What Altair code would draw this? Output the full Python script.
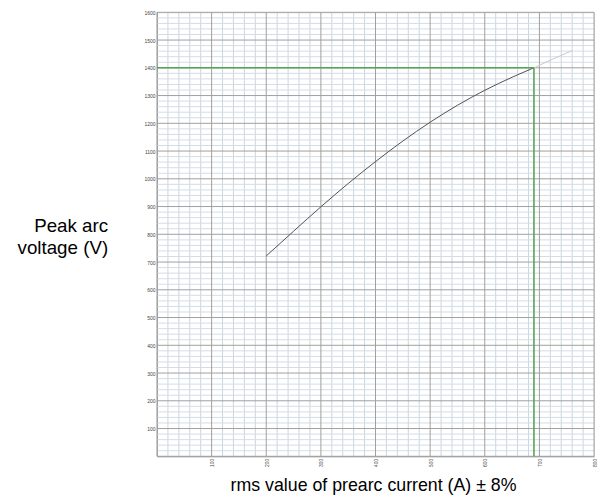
import altair as alt
import pandas as pd

# Axis tick values
x_major = [0, 100, 200, 300, 400, 500, 600, 700, 800]
y_major = [0, 100, 200, 300, 400, 500, 600, 700, 800, 900, 1000,
           1100, 1200, 1300, 1400, 1500, 1600]
x_minor = [v for v in range(0, 801, 20) if v % 100]
y_minor = [v for v in range(0, 1601, 20) if v % 100]
x_labels = [100, 200, 300, 400, 500, 600, 700, 800]
y_labels = [100, 200, 300, 400, 500, 600, 700, 800, 900, 1000,
            1100, 1200, 1300, 1400, 1500, 1600]

# Curve: rms prearc current (A) vs peak arc voltage (V)
curve_x = [200, 250, 300, 350, 400, 450, 500, 550, 600, 650, 690]
curve_y = [722, 811, 899, 983, 1062, 1136, 1204, 1265, 1319, 1366, 1400]
# faint continuation beyond the reading point
ext_x = [690, 725, 760]
ext_y = [1400, 1432, 1462]

# reading point
ref_current = [690]
ref_voltage = [1400]

FONT = "Liberation Sans"
xs = alt.Scale(domain=[0, 800], nice=False, zero=False)
ys = alt.Scale(domain=[0, 1600], nice=False, zero=False)

x_axis = alt.Axis(
    values=x_labels, format="d", grid=False, ticks=False, labelAngle=270,
    labelPadding=2, labelFontSize=5, labelFont=FONT, labelColor="#444",
    domainColor="#9e9e9e",
    title="rms value of prearc current (A) ± 8%",
    titleFont=FONT, titleFontSize=18, titleFontWeight="normal",
    titleColor="#000", titleBaseline="alphabetic",
    titleX=219, titleY=35)
y_axis = alt.Axis(
    values=y_labels, format="d", grid=False, ticks=False,
    labelPadding=2, labelFontSize=5, labelFont=FONT, labelColor="#444",
    domainColor="#9e9e9e",
    title=["Peak arc", "voltage (V)"],
    titleFont=FONT, titleFontSize=19, titleFontWeight="normal",
    titleColor="#000", titleAngle=0, titleAlign="right",
    titleBaseline="alphabetic", titleLineHeight=22,
    titleX=-50, titleY=222)


def X(field):
    return alt.X(field, type="quantitative", scale=xs, axis=x_axis)


def Y(field):
    return alt.Y(field, type="quantitative", scale=ys, axis=y_axis)


minor_v = alt.Chart(pd.DataFrame({"x": x_minor})).mark_rule(
    color="#c9d5e0", strokeWidth=1).encode(x=X("x"))
minor_h = alt.Chart(pd.DataFrame({"y": y_minor})).mark_rule(
    color="#d3dce5", strokeWidth=1).encode(y=Y("y"))
major_v = alt.Chart(pd.DataFrame({"x": x_major})).mark_rule(
    color="#9e9e9e", strokeWidth=1).encode(x=X("x"))
major_h = alt.Chart(pd.DataFrame({"y": y_major})).mark_rule(
    color="#9e9e9e", strokeWidth=1).encode(y=Y("y"))

ext = alt.Chart(pd.DataFrame({"x": ext_x, "y": ext_y})).mark_line(
    color="#c8c8c8", strokeWidth=1).encode(x=X("x"), y=Y("y"))
curve = alt.Chart(pd.DataFrame({"x": curve_x, "y": curve_y})).mark_line(
    color="#505050", strokeWidth=1, interpolate="monotone").encode(
    x=X("x"), y=Y("y"))

ref = pd.DataFrame({"x": ref_current, "y": ref_voltage, "x0": [0], "y0": [0]})
green_h = alt.Chart(ref).mark_rule(color="#55a355", strokeWidth=1.6).encode(
    x=X("x0"), x2="x:Q", y=Y("y"))
green_v = alt.Chart(ref).mark_rule(color="#55a355", strokeWidth=1.6).encode(
    x=X("x"), y=Y("y0"), y2="y:Q")

chart = alt.layer(minor_v, minor_h, major_v, major_h, ext, curve, green_h, green_v).properties(
    width=443, height=450,
    autosize=alt.AutoSizeParams(type="none"),
    padding={"left": 151, "top": 1, "right": 3, "bottom": 45},
).configure_view(stroke="#9e9e9e", strokeWidth=1).configure(background="white")

chart.save("out.html", embed_options={"renderer": "svg", "actions": False})
